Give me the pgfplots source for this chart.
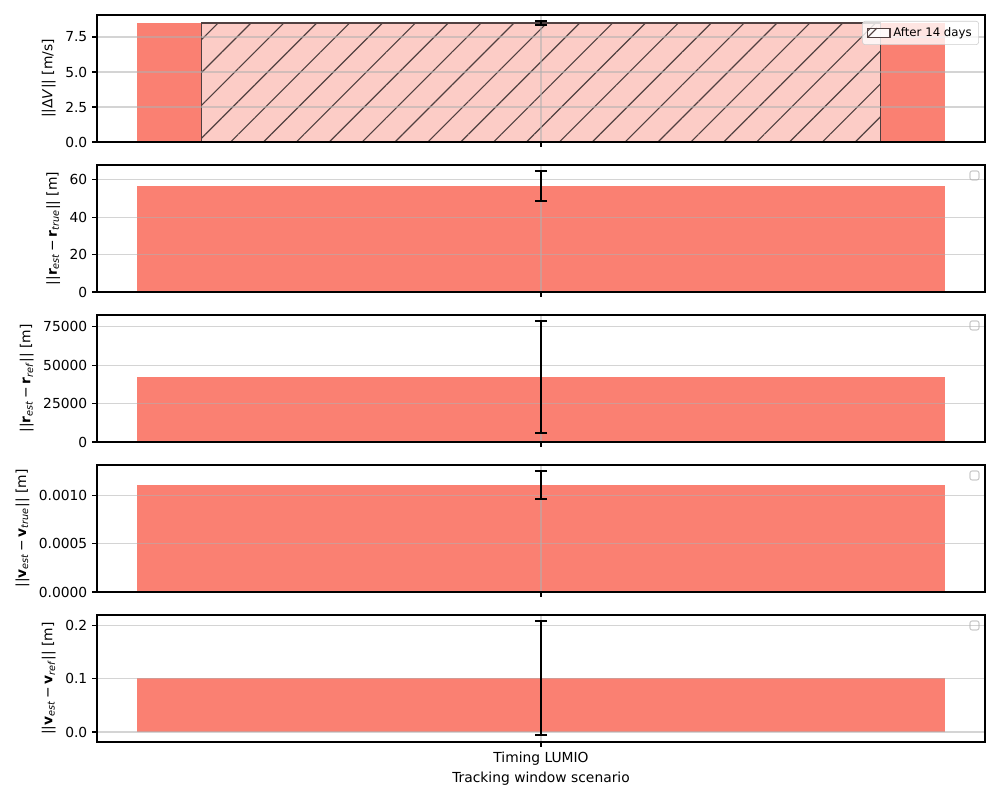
\documentclass[border=0pt]{standalone}
\usepackage{fontspec}
\setmainfont{DejaVu Sans}
\usepackage{pgfplots}
\pgfplotsset{compat=1.18}
\usetikzlibrary{patterns.meta}
\definecolor{salmon}{RGB}{250,128,114}
\definecolor{hatchfill}{RGB}{252,204,198}
\definecolor{hatchedge}{RGB}{80,64,64}
\definecolor{gridc}{RGB}{176,176,176}
\definecolor{legc}{RGB}{204,204,204}

\pgfplotsset{
  geom/.style={
    width=641.76pt, height=91.78pt, scale only axis,
    xmin=-0.4396, xmax=0.4396, anchor=south west,
  },
  panel/.style={
    geom,
    xtick={0},
    tick align=outside, tick pos=left,
    major tick length=3.5pt,
    every tick/.style={black, line width=0.8pt},
    axis line style={line width=0.8pt},
    xmajorgrids, ymajorgrids,
    grid style={line width=0.8pt, draw=gridc, draw opacity=0.55},
    axis on top,
    scaled y ticks=false,
    /pgf/number format/assume math mode=true,
    /pgf/number format/1000 sep={},
    tick label style={font=\fontsize{10}{12}\selectfont},
    label style={font=\fontsize{10}{12}\selectfont},
  },
  over/.style={geom, hide axis},
  salbar/.style={ybar, bar shift=0pt, bar width=0.8, fill=salmon, draw=none, forget plot},
  ebar/.style={forget plot, draw=none, mark=none,
    error bars/.cd, y dir=both, y explicit,
    error bar style={draw=black, solid, line width=1.5pt},
    error mark options={rotate=90, mark size=4.35pt, line width=1.5pt, draw=black, solid}},
}
\newcommand{\emptyleg}{\draw[draw=legc, fill=white, fill opacity=0.8, rounded corners=1.5pt, line width=0.8pt] (rel axis cs:0.9831,0.882) rectangle (rel axis cs:0.9932,0.953);}

\begin{document}
\begin{tikzpicture}
\useasboundingbox (0,0) rectangle (722.7pt,578.16pt);

% Panel 1
\begin{axis}[panel, at={(70.10pt,475.54pt)},
  ymin=0, ymax=9.07, ytick={0,2.5,5,7.5},
  yticklabel style={/pgf/number format/.cd, fixed, fixed zerofill, precision=1},
  xticklabels={},
  ylabel={||Δ\textit{V}|| [m/s]},
  legend style={at={(rel axis cs:0.9932,0.953)}, anchor=north east, draw=legc, fill=white, fill opacity=0.8, text opacity=1, draw opacity=1, rounded corners=2pt, font=\fontsize{8.5}{10}\selectfont, inner xsep=3pt, inner ysep=2.5pt},
  legend cell align=left,
]
\addplot[salbar] coordinates {(0,8.5)};
\addplot[ybar, bar shift=0pt, bar width=0.673, fill=hatchfill, draw=hatchedge, line width=0.8pt,
  postaction={pattern={Lines[angle=45,distance=16.8pt,line width=0.8pt]}, pattern color=hatchedge},
  legend image code/.code={\draw[sharp corners, fill=white, draw=hatchedge, line width=0.8pt] (0pt,-3pt) rectangle (16.5pt,3.5pt);
    \draw[hatchedge, line width=0.7pt] (0.5pt,-3pt) -- (7pt,3.5pt);}]
  coordinates {(0,8.5)};
\addlegendentry{After 14 days}
\end{axis}
\begin{axis}[over, at={(70.10pt,475.54pt)}, ymin=0, ymax=9.07]
\addplot[ebar] coordinates {(0,8.5) +- (0,0.15)};
\end{axis}

% Panel 2
\begin{axis}[panel, at={(70.10pt,367.13pt)},
  ymin=0, ymax=68.0, ytick={0,20,40,60},
  xticklabels={},
  ylabel={||\textbf{r}\textsubscript{\textit{est}}\,−\,\textbf{r}\textsubscript{\textit{true}}|| [m]},
]
\addplot[salbar] coordinates {(0,56.8)};
\emptyleg
\end{axis}
\begin{axis}[over, at={(70.10pt,367.13pt)}, ymin=0, ymax=68.0]
\addplot[ebar] coordinates {(0,56.8) +- (0,8.05)};
\end{axis}

% Panel 3
\begin{axis}[panel, at={(70.10pt,258.73pt)},
  ymin=0, ymax=82600, ytick={0,25000,50000,75000},
  yticklabel style={/pgf/number format/.cd, fixed, precision=0},
  xticklabels={},
  ylabel={||\textbf{r}\textsubscript{\textit{est}}\,−\,\textbf{r}\textsubscript{\textit{ref}}|| [m]},
]
\addplot[salbar] coordinates {(0,42280)};
\emptyleg
\end{axis}
\begin{axis}[over, at={(70.10pt,258.73pt)}, ymin=0, ymax=82600]
\addplot[ebar] coordinates {(0,42280) +- (0,36420)};
\end{axis}

% Panel 4
\begin{axis}[panel, at={(70.10pt,150.32pt)},
  ymin=0, ymax=0.001312, ytick={0,0.0005,0.001},
  yticklabel style={/pgf/number format/.cd, fixed, fixed zerofill, precision=4},
  xticklabels={},
  ylabel={||\textbf{v}\textsubscript{\textit{est}}\,−\,\textbf{v}\textsubscript{\textit{true}}|| [m]},
]
\addplot[salbar] coordinates {(0,0.001106)};
\emptyleg
\end{axis}
\begin{axis}[over, at={(70.10pt,150.32pt)}, ymin=0, ymax=0.001312]
\addplot[ebar] coordinates {(0,0.001106) +- (0,0.000144)};
\end{axis}

% Panel 5
\begin{axis}[panel, at={(70.10pt,41.92pt)},
  ymin=-0.0188, ymax=0.220, ytick={0,0.1,0.2},
  yticklabel style={/pgf/number format/.cd, fixed, fixed zerofill, precision=1},
  xticklabels={Timing LUMIO},
  xlabel={Tracking window scenario},
  xlabel style={yshift=2pt},
  ylabel={||\textbf{v}\textsubscript{\textit{est}}\,−\,\textbf{v}\textsubscript{\textit{ref}}|| [m]},
]
\addplot[salbar] coordinates {(0,0.1013)};
\emptyleg
\end{axis}
\begin{axis}[over, at={(70.10pt,41.92pt)}, ymin=-0.0188, ymax=0.220]
\addplot[ebar] coordinates {(0,0.1013) +- (0,0.1078)};
\end{axis}
\end{tikzpicture}
\end{document}
